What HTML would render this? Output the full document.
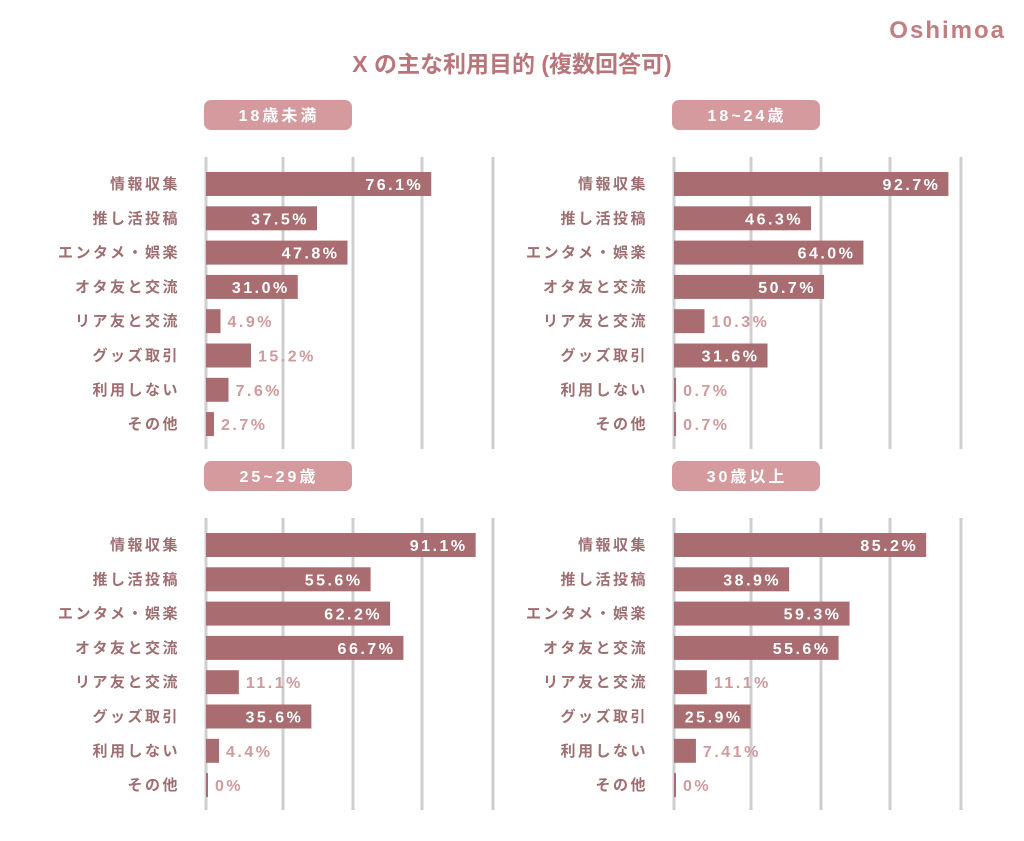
<!DOCTYPE html>
<html><head><meta charset="utf-8"><style>
body{margin:0;background:#fff;width:1024px;height:836px;overflow:hidden;font-family:"Liberation Sans","Noto Sans CJK JP",sans-serif}
</style></head><body>
<svg id="c" width="1024" height="836" xmlns="http://www.w3.org/2000/svg">
<text x="1006" y="38" text-anchor="end" font-size="24" font-weight="bold" fill="#c07e83" letter-spacing="2" font-family="Liberation Sans, sans-serif">Oshimoa</text>
<text x="512" y="72" text-anchor="middle" font-size="23" font-weight="bold" fill="#b8767b" font-family="Liberation Sans, Noto Sans CJK JP, sans-serif">X の主な利用目的 (複数回答可)</text>
</svg>
<script>
const categories=["情報収集","推し活投稿","エンタメ・娯楽","オタ友と交流","リア友と交流","グッズ取引","利用しない","その他"];
const panelTitles=["18歳未満","18~24歳","25~29歳","30歳以上"];
const seriesU18=[76.1,37.5,47.8,31.0,4.9,15.2,7.6,2.7];
const series18_24=[92.7,46.3,64.0,50.7,10.3,31.6,0.7,0.7];
const series25_29=[91.1,55.6,62.2,66.7,11.1,35.6,4.4,0];
const series30p=[85.2,38.9,59.3,55.6,11.1,25.9,7.41,0];
const valueLabels=[["76.1%","37.5%","47.8%","31.0%","4.9%","15.2%","7.6%","2.7%"],["92.7%","46.3%","64.0%","50.7%","10.3%","31.6%","0.7%","0.7%"],["91.1%","55.6%","62.2%","66.7%","11.1%","35.6%","4.4%","0%"],["85.2%","38.9%","59.3%","55.6%","11.1%","25.9%","7.41%","0%"]];
const all=[seriesU18,series18_24,series25_29,series30p];
const svg=document.getElementById('c');
const NS='http://www.w3.org/2000/svg';
function mk(t,a,p){const e=document.createElementNS(NS,t);for(const k in a)e.setAttribute(k,a[k]);(p||svg).appendChild(e);return e;}
const ox=[206,674,206,674], oy=[0,0,361,361];
all.forEach((vals,pi)=>{
  const x0=ox[pi], dy=oy[pi];
  const g=mk('g',{});
  
  
  const xs=v=>x0+v*2.96;
  const ys=i=>dy+184+i*34.3;
  [0,77,147,216,287].forEach(o=>{
    const l=mk('line',{x1:x0+o,x2:x0+o,y1:dy+157,y2:dy+449,stroke:'#cfcfd2','stroke-width':3},g);
    
    
  });
  const b=mk('rect',{x:x0-2,y:dy+100,width:148,height:30,rx:7,fill:'#d49a9d'},g);
  
  
  const bt=mk('text',{x:x0+73,y:dy+121,'text-anchor':'middle','font-size':16,'font-weight':'bold',fill:'#fff','letter-spacing':3},g);
  bt.textContent=panelTitles[pi];
  
  
  vals.forEach((v,i)=>{
    const cy=ys(i);
    const lb=mk('text',{x:x0-26,y:cy+5,'text-anchor':'end','font-size':15,'font-weight':'bold',fill:'#9e6e71','letter-spacing':2.5},g);
    lb.textContent=categories[i];
    
    
    const w=Math.max(xs(v)-x0,v>0?0:2);
    const r=mk('rect',{x:x0,y:cy-12,width:w,height:24,fill:'#a96d71'},g);
    
    
    const inside=v>=20;
    const t=mk('text',{x:inside?xs(v)-8:x0+w+7,y:cy+6,'text-anchor':inside?'end':'start','font-size':16,'font-weight':'bold',fill:inside?'#fff':'#cf9a9d','letter-spacing':2.5},g);
    t.textContent=valueLabels[pi][i];
    
    
  });
});
</script>
</body></html>
